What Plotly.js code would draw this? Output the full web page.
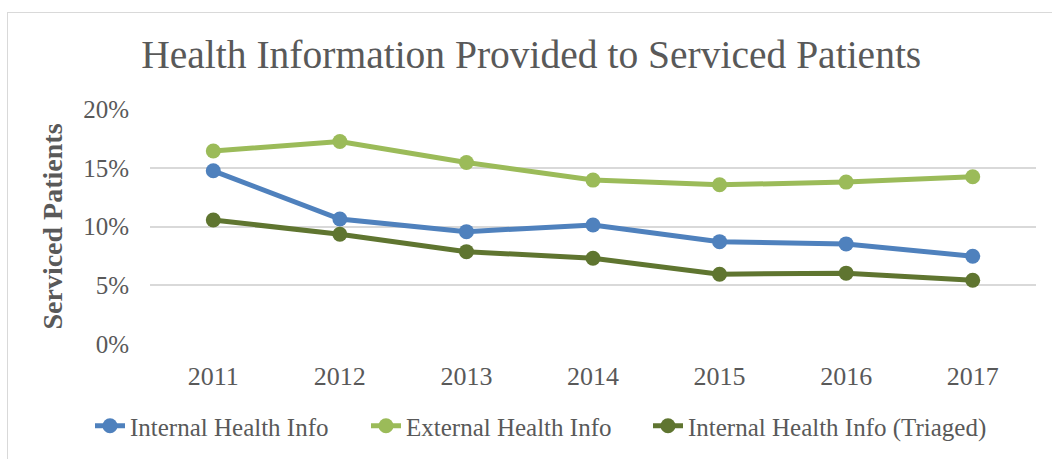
<!DOCTYPE html>
<html>
<head>
<meta charset="utf-8">
<script src="https://cdn.plot.ly/plotly-3.0.1.min.js"></script>
<style>
  html, body { margin: 0; padding: 0; background: #ffffff; }
  #wrap { position: relative; width: 1052px; height: 459px; }
  #chart { width: 1052px; height: 459px; }
  #frame { position: absolute; left: 7px; top: 12px; right: -2px; bottom: -2px;
           border-left: 1px solid #d9d9d9; border-top: 1px solid #d9d9d9; pointer-events: none; }
</style>
</head>
<body>
<div id="wrap">
  <div id="chart"></div>
  <div id="frame"></div>
</div>
<script>
const years = ['2011', '2012', '2013', '2014', '2015', '2016', '2017'];
const internalInfo = [0.1474, 0.1064, 0.0956, 0.1013, 0.0871, 0.0852, 0.0747];
const externalInfo = [0.1643, 0.1723, 0.1545, 0.1395, 0.1355, 0.1378, 0.1423];
const triagedInfo  = [0.1055, 0.0934, 0.0786, 0.0730, 0.0594, 0.0603, 0.0543];
const seriesNames  = ['Internal Health Info', 'External Health Info', 'Internal Health Info (Triaged)'];
const seriesColors = ['#4f81bd', '#9bbb59', '#5f7530'];
const seriesValues = [internalInfo, externalInfo, triagedInfo];

const serif = 'Liberation Serif, Times New Roman, serif';
const textColor = '#595959';
const legendIds = ['legend', 'legend2', 'legend3'];
const legendLeft = [90, 366, 648];

const traces = seriesValues.map((vals, i) => ({
  type: 'scatter',
  mode: 'lines+markers',
  x: years,
  y: vals,
  name: seriesNames[i],
  legend: legendIds[i],
  line: { color: seriesColors[i], width: 5 },
  marker: { color: seriesColors[i], size: 15 },
  hoverinfo: 'x+y+name'
}));

const layout = {
  width: 1052,
  height: 459,
  paper_bgcolor: '#ffffff',
  plot_bgcolor: '#ffffff',
  margin: { l: 150, r: 16, t: 109, b: 115 },
  title: {
    text: 'Health Information Provided to Serviced Patients',
    font: { family: serif, size: 39.5, color: textColor },
    x: 0.505, xanchor: 'center',
    y: 1 - 54 / 459, yanchor: 'middle',
    xref: 'container', yref: 'container'
  },
  xaxis: {
    type: 'category',
    range: [-0.5, 6.5],
    showgrid: false,
    zeroline: false,
    showline: false,
    ticks: '',
    ticklabelstandoff: 14,
    tickfont: { family: serif, size: 26, color: textColor }
  },
  yaxis: {
    range: [0, 0.2],
    dtick: 0.05,
    tick0: 0,
    tickformat: '.0%',
    showgrid: true,
    gridcolor: '#d9d9d9',
    gridwidth: 2,
    zeroline: false,
    showline: false,
    ticks: '',
    ticklabelstandoff: 20,
    tickfont: { family: serif, size: 25, color: textColor },
    title: {
      text: '<b>Serviced Patients</b>',
      font: { family: serif, size: 28, color: textColor },
      standoff: 12
    }
  },
  showlegend: true
};

legendIds.forEach((id, i) => {
  layout[id] = {
    orientation: 'h',
    xref: 'container', yref: 'container',
    x: legendLeft[i] / 1052, xanchor: 'left',
    y: 1 - 426 / 459, yanchor: 'middle',
    font: { family: serif, size: 25, color: textColor },
    bgcolor: 'rgba(0,0,0,0)'
  };
});

Plotly.newPlot('chart', traces, layout, { displayModeBar: false, staticPlot: true });
</script>
</body>
</html>
